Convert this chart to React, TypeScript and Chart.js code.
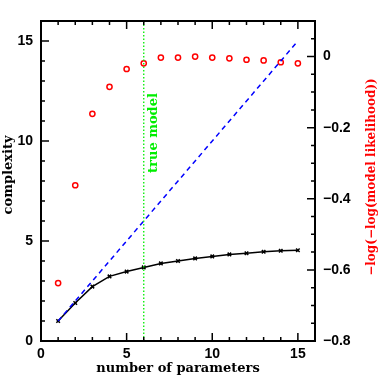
import React, { useEffect, useRef } from "react";
import { Chart, registerables } from "chart.js";

Chart.register(...registerables);

const paramCounts = [1, 2, 3, 4, 5, 6, 7, 8, 9, 10, 11, 12, 13, 14, 15];
const complexity = [1.0, 1.9, 2.72, 3.23, 3.47, 3.68, 3.88, 4.0, 4.13, 4.23, 4.33, 4.39, 4.46, 4.51, 4.54];
const logLikelihood = [-0.637, -0.362, -0.161, -0.085, -0.035, -0.019, -0.003, -0.003, 0.0, -0.003, -0.005, -0.009, -0.011, -0.016, -0.019];
const refLineX = [1, 15];
const refLineY = [1, 15];
const trueModel = 6;

const xTicks = [0, 5, 10, 15];
const yTicks = [0, 5, 10, 15];
const y2Ticks = [-0.8, -0.6, -0.4, -0.2, 0];

const xTitle = "number of parameters";
const yTitle = "complexity";
const y2Title = "\u2212log(\u2212log(model likelihood))";
const trueModelLabel = "true model";

const TICK_FONT = { family: "'Liberation Sans', Arial, sans-serif", size: 14, weight: "bold" as const };
const TITLE_FONT = "bold 13px 'DejaVu Serif', serif";
const Y2_TITLE_FONT = "bold 12px 'DejaVu Serif', serif";

const fmt = (v: number) => {
  if (Math.abs(v) < 1e-9) return "0";
  const s = Number.isInteger(v) ? String(v) : v.toFixed(1);
  return s.replace("-", "\u2212");
};

const framePlugin = {
  id: "frame",
  afterDraw(chart: any) {
    const { ctx, chartArea: a, scales } = chart;
    const x = scales.x, y = scales.y, y2 = scales.y2;
    ctx.save();
    ctx.strokeStyle = "#000";
    ctx.lineWidth = 2;
    ctx.strokeRect(a.left, a.top, a.right - a.left, a.bottom - a.top);
    ctx.lineWidth = 1.5;
    ctx.beginPath();
    for (let v = 0; v <= 16; v += 1) {
      const px = x.getPixelForValue(v);
      if (px <= a.left + 1 || px >= a.right - 1) continue;
      const len = v % 5 === 0 ? 8 : 4;
      ctx.moveTo(px, a.bottom);
      ctx.lineTo(px, a.bottom - len);
      ctx.moveTo(px, a.top);
      ctx.lineTo(px, a.top + len);
    }
    for (let v = 0; v <= 16; v += 1) {
      const py = y.getPixelForValue(v);
      if (py >= a.bottom - 1 || py <= a.top + 1) continue;
      const len = v % 5 === 0 ? 8 : 4;
      ctx.moveTo(a.left, py);
      ctx.lineTo(a.left + len, py);
    }
    for (let i = -16; i <= 2; i++) {
      const v = i * 0.05;
      const py = y2.getPixelForValue(v);
      if (py >= a.bottom - 1 || py <= a.top + 1) continue;
      const len = i % 4 === 0 ? 8 : 4;
      ctx.moveTo(a.right, py);
      ctx.lineTo(a.right - len, py);
    }
    ctx.stroke();

    ctx.font = TITLE_FONT;
    ctx.textAlign = "center";
    ctx.textBaseline = "middle";
    ctx.fillStyle = "#000";
    ctx.fillText(xTitle, (a.left + a.right) / 2, 369);

    ctx.save();
    ctx.translate(9, 175);
    ctx.rotate(-Math.PI / 2);
    ctx.fillText(yTitle, 0, 0);
    ctx.restore();

    ctx.save();
    ctx.font = Y2_TITLE_FONT;
    ctx.fillStyle = "#ff0000";
    ctx.translate(372, 177);
    ctx.rotate(-Math.PI / 2);
    ctx.fillText(y2Title, 0, 0);
    ctx.restore();

    ctx.save();
    ctx.fillStyle = "#00ee00";
    ctx.translate(x.getPixelForValue(trueModel) + 10, y.getPixelForValue(10.4));
    ctx.rotate(-Math.PI / 2);
    ctx.fillText(trueModelLabel, 0, 0);
    ctx.restore();

    ctx.restore();
  },
};

export default function App() {
  const ref = useRef<HTMLCanvasElement | null>(null);
  useEffect(() => {
    document.body.style.margin = "0";
    const canvas = ref.current;
    if (!canvas) return;
    const chart = new Chart(canvas, {
      type: "line",
      data: {
        datasets: [
          {
            label: trueModelLabel,
            data: [{ x: trueModel, y: 0 }, { x: trueModel, y: 16 }],
            borderColor: "#00ee00",
            borderWidth: 1.3,
            borderDash: [1.5, 2],
            pointRadius: 0,
            yAxisID: "y",
          },
          {
            label: "reference",
            data: refLineX.map((v, i) => ({ x: v, y: refLineY[i] })),
            borderColor: "#0000ff",
            borderWidth: 1.5,
            borderDash: [5, 4],
            pointRadius: 0,
            yAxisID: "y",
          },
          {
            label: yTitle,
            data: paramCounts.map((v, i) => ({ x: v, y: complexity[i] })),
            borderColor: "#000",
            borderWidth: 1.5,
            pointStyle: "crossRot",
            pointRadius: 2.5,
            pointBorderWidth: 1.5,
            pointBorderColor: "#000",
            yAxisID: "y",
          },
          {
            label: y2Title,
            data: paramCounts.map((v, i) => ({ x: v, y: logLikelihood[i] })),
            showLine: false,
            borderColor: "#ff0000",
            backgroundColor: "rgba(0,0,0,0)",
            pointStyle: "circle",
            pointRadius: 2.6,
            pointBorderWidth: 1.5,
            yAxisID: "y2",
          },
        ],
      },
      options: {
        animation: false,
        responsive: true,
        maintainAspectRatio: false,
        layout: { padding: { top: 21, left: 0, right: 0, bottom: 0 } },
        plugins: { legend: { display: false }, tooltip: { enabled: false } },
        scales: {
          x: {
            type: "linear",
            position: "bottom",
            min: 0,
            max: 16,
            grid: { display: false, drawTicks: false },
            border: { display: false },
            afterBuildTicks: (s: any) => { s.ticks = xTicks.map((v) => ({ value: v })); },
            afterFit: (s: any) => { s.height = 41; },
            ticks: { color: "#000", font: TICK_FONT, padding: 5, maxRotation: 0, callback: (v: any) => fmt(Number(v)) },
          },
          y: {
            type: "linear",
            position: "left",
            min: 0,
            max: 16,
            grid: { display: false, drawTicks: false },
            border: { display: false },
            afterBuildTicks: (s: any) => { s.ticks = yTicks.map((v) => ({ value: v })); },
            afterFit: (s: any) => { s.width = 41; },
            ticks: { color: "#000", font: TICK_FONT, padding: 8, callback: (v: any) => fmt(Number(v)) },
          },
          y2: {
            type: "linear",
            position: "right",
            min: -0.8,
            max: 0.1,
            grid: { display: false, drawTicks: false },
            border: { display: false },
            afterBuildTicks: (s: any) => { s.ticks = y2Ticks.map((v) => ({ value: v })); },
            afterFit: (s: any) => { s.width = 67; },
            ticks: { color: "#000", font: TICK_FONT, padding: 8, callback: (v: any) => fmt(Number(v)) },
          },
        },
      },
      plugins: [framePlugin],
    });
    return () => chart.destroy();
  }, []);
  return (
    <div style={{ position: "fixed", left: 0, top: 0, width: 382, height: 382, background: "#fff" }}>
      <canvas ref={ref} />
    </div>
  );
}
